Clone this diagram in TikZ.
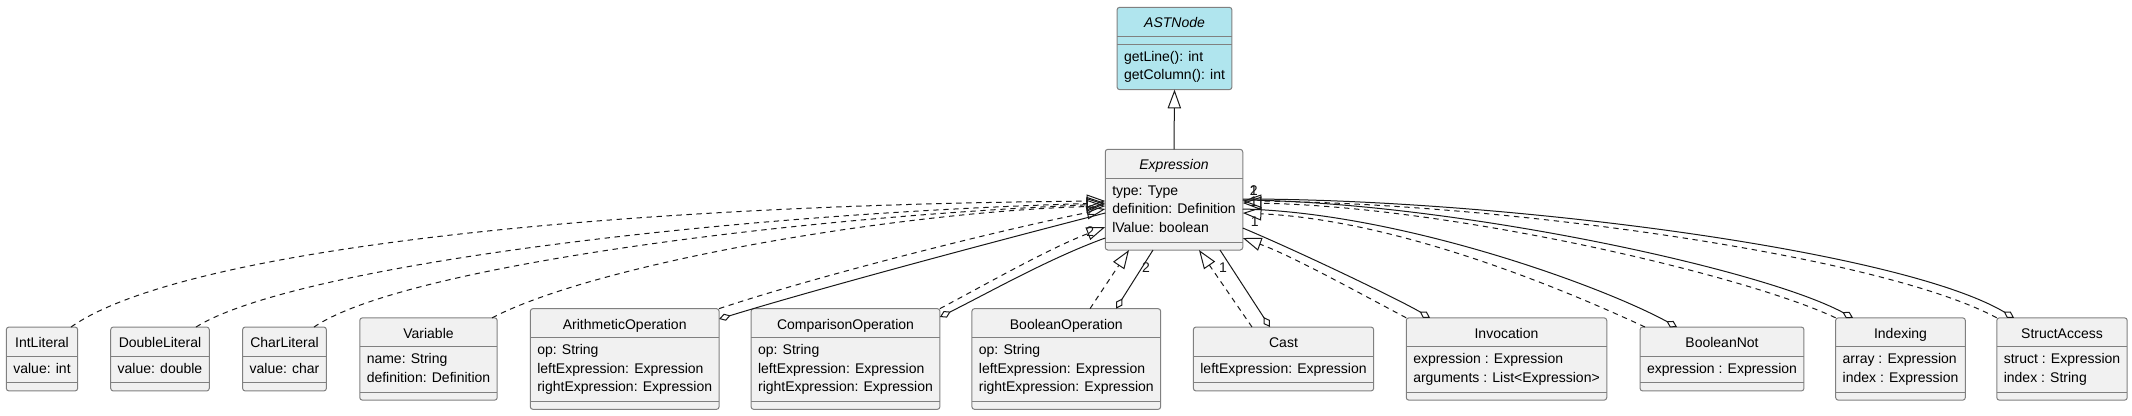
\documentclass[tikz,border=0pt]{standalone}
\usepackage{fontspec}
\setmainfont{Liberation Sans}
\usetikzlibrary{arrows.meta}
\definecolor{clsfill}{HTML}{F1F1F1}
\definecolor{absfill}{HTML}{B0E5EE}
\definecolor{clsline}{HTML}{808080}
\definecolor{relline}{HTML}{181818}
\newcommand\ctitle[1]{\multicolumn{1}{@{}c@{}}{\rule[-6.25pt]{0pt}{21.75pt}#1}}
\newcommand\classbox[2]{\begin{tabular}{@{}l@{}}\ctitle{#1}\\\rule{0pt}{12.86pt}#2\rule[-13.34pt]{0pt}{13.34pt}\end{tabular}}
\newcommand\splitlines[1]{\draw[draw=clsline, line width=0.75pt] ([yshift=-21.75pt]#1.north west) -- ([yshift=-21.75pt]#1.north east) ([yshift=6pt]#1.south west) -- ([yshift=6pt]#1.south east);}
\begin{document}
\begin{tikzpicture}[x=0.75pt,y=0.75pt,
	cls/.style={draw=clsline, fill=clsfill, line width=0.75pt, rounded corners=2pt, inner xsep=5.25pt, inner ysep=0pt, outer sep=0pt, font=\fontsize{10.5}{13.8}\selectfont},
	real/.style={draw=relline, line width=0.75pt, dash pattern=on 4pt off 3.5pt, -{Triangle[open,length=14pt,width=10pt]}},
	aggr/.style={draw=relline, line width=0.75pt, {Diamond[open,length=9pt,width=5.5pt]}-},
	mult/.style={font=\fontsize{10.5}{12}\selectfont, inner sep=0pt, text=relline}]
	\useasboundingbox (0,0) rectangle (2132,-415);
	\node[cls, fill=absfill, anchor=north] (ast) at (1174.5,-7.3) {\begin{tabular}{@{}l@{}}\ctitle{\itshape ASTNode}\\\rule{0pt}{18.86pt}getLine(): int\\getColumn(): int\rule[-7.34pt]{0pt}{7.34pt}\end{tabular}};
	\draw[draw=clsline, line width=0.75pt] ([yshift=-21.75pt]ast.north west) -- ([yshift=-21.75pt]ast.north east) ([yshift=-27.75pt]ast.north west) -- ([yshift=-27.75pt]ast.north east);
	\node[cls, anchor=north] (expr) at (1174,-149.3) {\classbox{\itshape Expression}{type: Type\\definition: Definition\\lValue: boolean}};
	\node[cls] (intlit) at (42,-359) {\classbox{IntLiteral}{value: int}};
	\node[cls] (dbllit) at (160,-359) {\classbox{DoubleLiteral}{value: double}};
	\node[cls] (charlit) at (284.5,-359) {\classbox{CharLiteral}{value: char}};
	\node[cls] (var) at (428.5,-359) {\classbox{Variable}{name: String\\definition: Definition}};
	\node[cls] (arith) at (624.7,-359) {\classbox{ArithmeticOperation}{op: String\\leftExpression: Expression\\rightExpression: Expression}};
	\node[cls] (comp) at (845.5,-359) {\classbox{ComparisonOperation}{op: String\\leftExpression: Expression\\rightExpression: Expression}};
	\node[cls] (boolop) at (1066.3,-359) {\classbox{BooleanOperation}{op: String\\leftExpression: Expression\\rightExpression: Expression}};
	\node[cls] (cast) at (1283.5,-359) {\classbox{Cast}{leftExpression: Expression}};
	\node[cls] (invoc) at (1506.5,-359) {\classbox{Invocation}{expression : Expression\\arguments : List<Expression>}};
	\node[cls] (boolnot) at (1722,-359) {\classbox{BooleanNot}{expression : Expression}};
	\node[cls] (index) at (1900.5,-359) {\classbox{Indexing}{array : Expression\\index : Expression}};
	\node[cls] (struct) at (2062,-359) {\classbox{StructAccess}{struct : Expression\\index : String}};
	\splitlines{expr}
	\splitlines{intlit}
	\splitlines{dbllit}
	\splitlines{charlit}
	\splitlines{var}
	\splitlines{arith}
	\splitlines{comp}
	\splitlines{boolop}
	\splitlines{cast}
	\splitlines{invoc}
	\splitlines{boolnot}
	\splitlines{index}
	\splitlines{struct}
	\draw[draw=relline, line width=0.75pt, -{Triangle[open,length=14pt,width=10pt]}] (expr.north) -- (ast.south);
	\draw[real] (intlit.north -| 71,0) .. controls (180,-250) and (600,-205) .. (expr.west |- 0,-201);
	\draw[real] (dbllit.north -| 196,0) .. controls (290,-268) and (700,-215) .. (expr.west |- 0,-203);
	\draw[real] (charlit.north -| 314,0) .. controls (400,-268) and (780,-218) .. (expr.west |- 0,-204);
	\draw[real] (var.north -| 492,0) .. controls (600,-262) and (900,-212) .. (expr.west |- 0,-206);
	\draw[real] (arith.north east) .. controls (820,-275) and (1000,-230) .. (expr.west |- 0,-209);
	\draw[real] (comp.north east) .. controls (990,-282) and (1050,-248) .. (expr.west |- 0,-227);
	\draw[real] (boolop.north -| 1090,0) -- (expr.south -| 1129,0);
	\draw[real] (cast.north -| 1252,0) -- (expr.south -| 1199,0);
	\draw[real] (invoc.north west) .. controls (1350,-288) and (1290,-255) .. (expr.east |- 0,-238);
	\draw[real] (boolnot.north -| 1645,0) .. controls (1570,-292) and (1400,-220) .. (expr.east |- 0,-213);
	\draw[real] (index.north west) .. controls (1745,-275) and (1450,-206) .. (expr.east |- 0,-203);
	\draw[real] (struct.north west) .. controls (1880,-255) and (1500,-203) .. (expr.east |- 0,-201);
	\draw[aggr] (arith.east |- 0,-319) .. controls (820,-288) and (1000,-240) .. (expr.west |- 0,-213) node[mult, pos=1, xshift=-10.5pt, yshift=1.5pt] {2};
	\draw[aggr] (comp.east |- 0,-317) .. controls (990,-292) and (1050,-258) .. (expr.west |- 0,-238) node[mult, pos=1, xshift=-11.25pt, yshift=4.5pt] {2};
	\draw[aggr] (boolop.north -| 1116,0) -- (expr.south -| 1153,0) node[mult, pos=1, xshift=-5.25pt, yshift=-13.5pt] {2};
	\draw[aggr] (cast.north -| 1270,0) -- (expr.south -| 1220,0) node[mult, pos=1, xshift=2.25pt, yshift=-13.5pt] {1};
	\draw[aggr] (invoc.north -| 1430,0) .. controls (1400,-300) and (1300,-252) .. (expr.east |- 0,-228) node[mult, pos=1, xshift=9pt, yshift=4.5pt] {1};
	\draw[aggr] (boolnot.north -| 1677,0) .. controls (1600,-285) and (1400,-213) .. (expr.east |- 0,-209) node[mult, pos=1, xshift=8.25pt, yshift=5.25pt] {1};
	\draw[aggr] (index.north -| 1853,0) .. controls (1760,-268) and (1450,-202) .. (expr.east |- 0,-200) node[mult, pos=1, xshift=8.25pt, yshift=6.75pt] {2};
	\draw[aggr] (struct.north -| 2014,0) .. controls (1900,-250) and (1500,-199) .. (expr.east |- 0,-199) node[mult, pos=1, xshift=8.25pt, yshift=6pt] {1};
\end{tikzpicture}
\end{document}
